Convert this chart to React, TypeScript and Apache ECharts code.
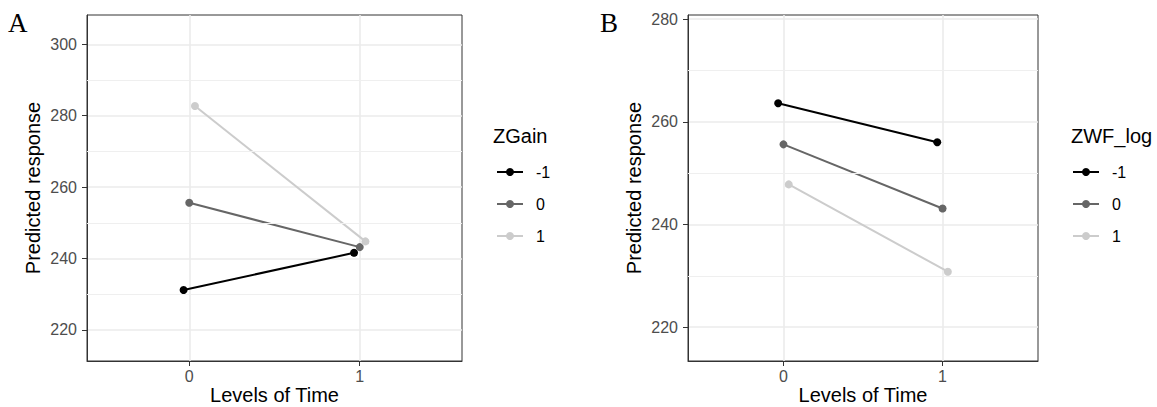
import React, { useEffect, useRef } from "react";
import * as echarts from "echarts";

// ---- data ----
const timeLevels = [0, 1];
const groupLabels = ["-1", "0", "1"];
const groupColors = ["#000000", "#666666", "#CCCCCC"];
const DODGE = 0.1;

// Panel A: ZGain
const zgainMinus1 = [231.2, 241.6];
const zgainZero = [255.6, 243.2];
const zgainPlus1 = [282.7, 244.8];
// Panel B: ZWF_log
const zwfMinus1 = [263.6, 256.0];
const zwfZero = [255.6, 243.1];
const zwfPlus1 = [247.8, 230.8];

const yTicksA = [220, 240, 260, 280, 300];
const yMinorA = [230, 250, 270, 290];
const yRangeA = [211.3, 308.2];
const yTicksB = [220, 240, 260, 280];
const yMinorB = [230, 250, 270];
const yRangeB = [213.4, 280.8];
const xTicks = [0, 1];
const xRange = [-0.6, 1.6];

const FONT = "Liberation Sans, Arial, sans-serif";

function buildSeries(prefix: string, values: number[][], axisIndex: number) {
  const n = values.length;
  return values.map((vals, gi) => {
    const off = -DODGE / 2 + DODGE / (2 * n) + (gi * DODGE) / n;
    return {
      name: prefix + "|" + groupLabels[gi],
      type: "line",
      xAxisIndex: axisIndex,
      yAxisIndex: axisIndex,
      data: timeLevels.map((t, i) => [t + off, vals[i]]),
      symbol: "circle",
      symbolSize: 8,
      showSymbol: true,
      lineStyle: { color: groupColors[gi], width: 2 },
      itemStyle: { color: groupColors[gi] },
      z: 3,
    };
  });
}

function minorSeries(axisIndex: number, minors: number[]) {
  return {
    name: "minor" + axisIndex,
    type: "line",
    xAxisIndex: axisIndex,
    yAxisIndex: axisIndex,
    data: [],
    z: 1,
    silent: true,
    markLine: {
      silent: true,
      symbol: "none",
      animation: false,
      label: { show: false },
      lineStyle: { color: "#EFEFEF", width: 1, type: "solid" },
      emphasis: { disabled: true },
      data: minors.map((v) => ({ yAxis: v })),
    },
  };
}

function xAxisDef(gridIndex: number) {
  return {
    type: "value",
    gridIndex,
    min: xRange[0],
    max: xRange[1],
    name: "Levels of Time",
    nameLocation: "middle",
    nameGap: 24,
    nameMoveOverlap: false,
    nameTextStyle: { fontSize: 20, lineHeight: 20, color: "#000", fontFamily: FONT },
    axisLine: { show: true, onZero: false, lineStyle: { color: "#333333", width: 1 } },
    axisTick: { show: true, customValues: xTicks, length: 5, lineStyle: { color: "#333333", width: 1 } },
    axisLabel: { customValues: xTicks, fontSize: 16, color: "#4D4D4D", fontFamily: FONT, margin: 7 },
    splitLine: { show: true, lineStyle: { color: "#EBEBEB", width: 1.6 } },
  };
}

function yAxisDef(gridIndex: number, range: number[], ticks: number[]) {
  return {
    type: "value",
    gridIndex,
    min: range[0],
    max: range[1],
    name: "Predicted response",
    nameLocation: "middle",
    nameGap: 44,
    nameMoveOverlap: false,
    nameTextStyle: { fontSize: 20, color: "#000", fontFamily: FONT },
    axisLine: { show: true, onZero: false, lineStyle: { color: "#333333", width: 1 } },
    axisTick: { show: true, customValues: ticks, length: 5, lineStyle: { color: "#333333", width: 1 } },
    axisLabel: { customValues: ticks, fontSize: 16, color: "#4D4D4D", fontFamily: FONT, margin: 10 },
    splitLine: { show: true, lineStyle: { color: "#EBEBEB", width: 1.6 } },
  };
}

function legendDef(prefix: string, left: number) {
  return {
    orient: "vertical",
    left,
    top: 164,
    padding: 0,
    itemWidth: 26,
    itemHeight: 10,
    itemGap: 16,
    selectedMode: false,
    data: groupLabels.map((g) => prefix + "|" + g),
    formatter: (n: string) => n.split("|")[1],
    textStyle: { fontSize: 16, color: "#000", fontFamily: FONT, padding: [0, 0, 0, 8] },
  };
}

export default function App() {
  const ref = useRef<HTMLDivElement>(null);
  useEffect(() => {
    if (!ref.current) return;
    const chart = echarts.init(ref.current, undefined, { renderer: "svg" });
    const option = {
      animation: false,
      backgroundColor: "#FFFFFF",
      grid: [
        { left: 87, top: 15, width: 375, height: 346, outerBoundsMode: "none", containLabel: false, show: true, borderColor: "#333333", borderWidth: 1, backgroundColor: "transparent" },
        { left: 688, top: 15, width: 350, height: 346, outerBoundsMode: "none", containLabel: false, show: true, borderColor: "#333333", borderWidth: 1, backgroundColor: "transparent" },
      ],
      xAxis: [xAxisDef(0), xAxisDef(1)],
      yAxis: [yAxisDef(0, yRangeA, yTicksA), yAxisDef(1, yRangeB, yTicksB)],
      legend: [legendDef("A", 496), legendDef("B", 1072)],
      graphic: [
        { type: "text", left: 8, top: 9, style: { text: "A", fontSize: 27, fontFamily: "Liberation Serif, Times New Roman, serif", fill: "#000" } },
        { type: "text", left: 600, top: 9, style: { text: "B", fontSize: 27, fontFamily: "Liberation Serif, Times New Roman, serif", fill: "#000" } },
        { type: "text", left: 493, top: 126, style: { text: "ZGain", fontSize: 20, fontFamily: FONT, fill: "#000" } },
        { type: "text", left: 1071, top: 126, style: { text: "ZWF_log", fontSize: 20, fontFamily: FONT, fill: "#000" } },
      ],
      series: [
        minorSeries(0, yMinorA),
        minorSeries(1, yMinorB),
        ...buildSeries("A", [zgainMinus1, zgainZero, zgainPlus1], 0),
        ...buildSeries("B", [zwfMinus1, zwfZero, zwfPlus1], 1),
      ],
    };
    chart.setOption(option as any);
    return () => chart.dispose();
  }, []);
  return (
    <div
      ref={ref}
      style={{ position: "fixed", left: 0, top: 0, width: 1157, height: 407, background: "#fff" }}
    />
  );
}
